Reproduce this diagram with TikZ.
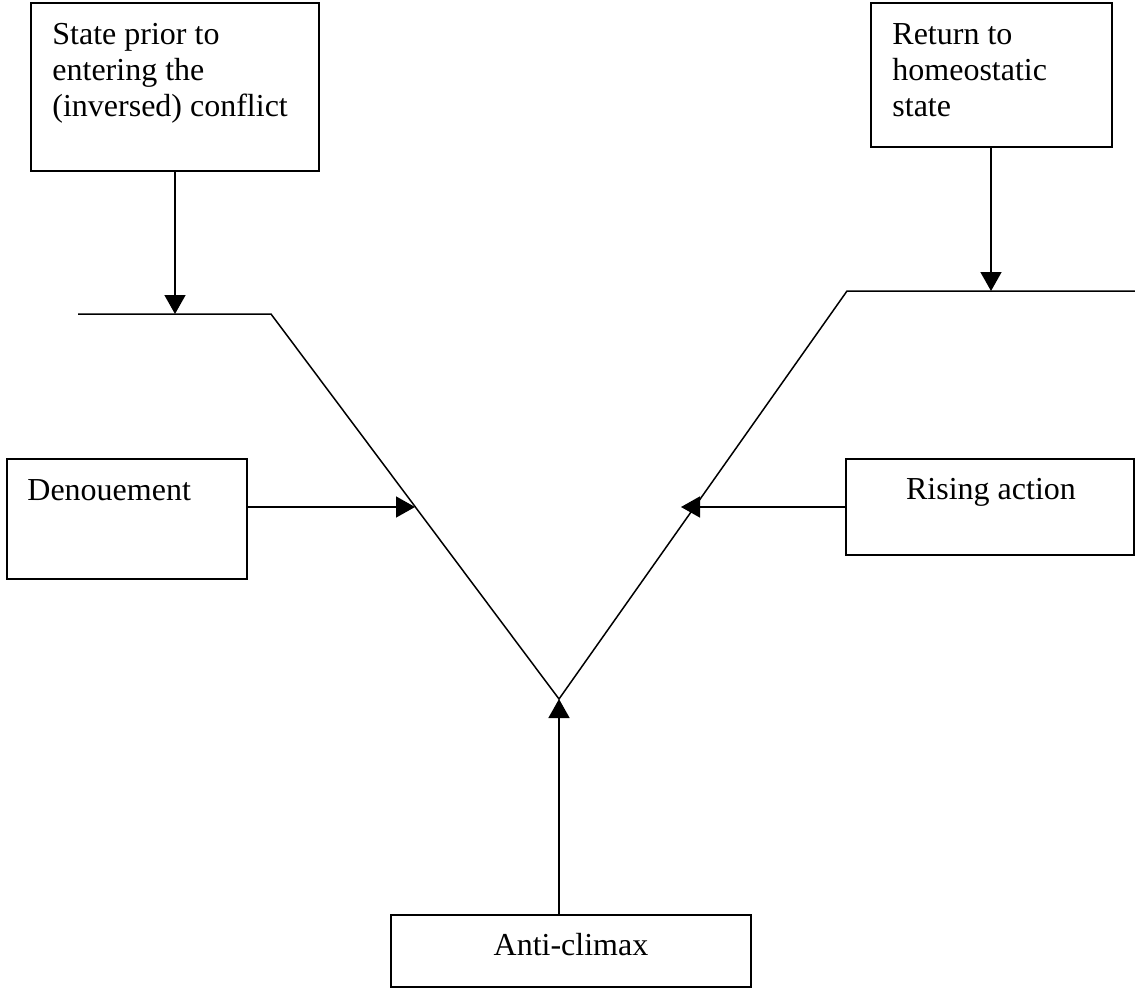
\documentclass[tikz,border=0pt]{standalone}
\usepackage{fontspec}
\setmainfont{Liberation Serif}
\usetikzlibrary{arrows.meta}
\begin{document}
\begin{tikzpicture}[x=0.5pt,y=-0.5pt,
  box/.style={draw=black,line width=0.8pt,rectangle,inner sep=0pt},
  lbl/.style={inner sep=0pt,font=\fontsize{16}{18}\selectfont,align=left},
  curve/.style={draw=black,line width=0.75pt},
  arr/.style={draw=black,line width=0.75pt,-{Triangle[length=9.5pt,width=10.5pt]}}]
\useasboundingbox (0,0) rectangle (1135,990);
% boxes
\node[box,minimum width=144pt,minimum height=84pt] (prior) at (175,87) {};
\node[box,minimum width=120.5pt,minimum height=72pt] (home) at (991.5,75) {};
\node[box,minimum width=120pt,minimum height=60pt] (denou) at (127,519) {};
\node[box,minimum width=144pt,minimum height=48pt] (rising) at (990,507) {};
\node[box,minimum width=180pt,minimum height=36pt] (anti) at (571,951) {};
% texts (anchored at the baseline of their last line)
\node[lbl,anchor=base west] (tprior) at (52,117) {State prior to\\entering the\\(inversed) conflict};
\node[lbl,anchor=base west] (thome) at (892,117) {Return to\\homeostatic\\state};
\node[lbl,anchor=base west] (tdenou) at (27,500) {Denouement};
\node[lbl,anchor=base] (trising) at (991,499) {Rising action};
\node[lbl,anchor=base] (tanti) at (571,955) {Anti-climax};
% the V-shaped curve
\coordinate (l0) at (78,314);
\coordinate (l1) at (271,314);
\coordinate (v) at (559,699);
\coordinate (r1) at (847,291);
\coordinate (r0) at (1135,291);
\draw[curve] (l0) -- (l1) -- (v) -- (r1) -- (r0);
% arrow targets
\coordinate (tl) at (175,314);
\coordinate (tr) at (991,291);
\coordinate (ml) at (415,507);
\coordinate (mr) at (681,507);
% arrows
\draw[arr] (prior.south) -- (tl);
\draw[arr] (home.south -| tr) -- (tr);
\draw[arr] (denou.east |- ml) -- (ml);
\draw[arr] (rising.west |- mr) -- (mr);
\draw[arr] (anti.north -| v) -- (v);
\end{tikzpicture}
\end{document}
